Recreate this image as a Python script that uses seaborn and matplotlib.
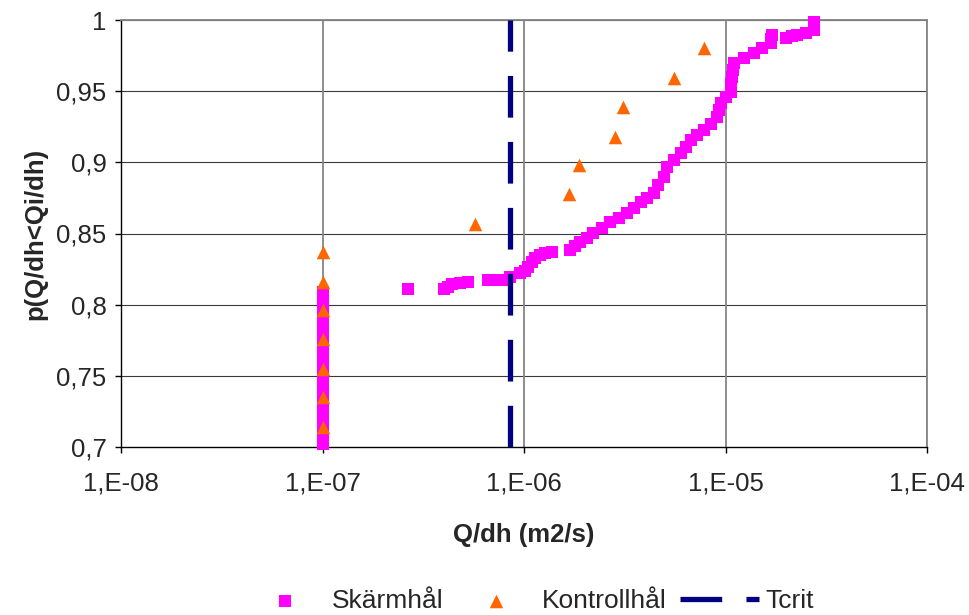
import numpy as np
import pandas as pd
import matplotlib
matplotlib.use("Agg")
import matplotlib.pyplot as plt
from matplotlib.ticker import FixedLocator, FuncFormatter, NullLocator
import seaborn as sns

# Skärmhål, values sitting on the lower limit 1E-07
skarm_col_p = [0.702, 0.707, 0.712, 0.716, 0.721, 0.726, 0.731, 0.735, 0.740,
               0.745, 0.750, 0.754, 0.759, 0.764, 0.769, 0.773, 0.778, 0.783,
               0.788, 0.792, 0.797, 0.802, 0.806, 0.809]
# Skärmhål, measured values
skarm_x = [2.66e-7, 3.99e-7, 4.2e-7, 4.39e-7, 4.8e-7, 5.29e-7,
           6.65e-7, 7.2e-7, 7.78e-7, 8.56e-7, 9.6e-7, 1.01e-6, 1.052e-6,
           1.10e-6, 1.139e-6, 1.20e-6, 1.277e-6, 1.384e-6,
           1.70e-6, 1.80e-6, 1.906e-6, 2.05e-6, 2.212e-6, 2.45e-6, 2.687e-6,
           2.95e-6, 3.253e-6, 3.5e-6, 3.788e-6, 4.1e-6, 4.393e-6, 4.65e-6,
           4.926e-6, 5.14e-6, 5.55e-6, 5.98e-6, 6.35e-6, 6.71e-6, 7.25e-6,
           7.78e-6, 8.45e-6, 9.11e-6, 9.3e-6, 9.45e-6, 1.0e-5, 1.06e-5,
           1.07e-5, 1.08e-5, 1.09e-5, 1.097e-5, 1.23e-5, 1.379e-5, 1.52e-5,
           1.675e-5, 1.69e-5, 1.708e-5, 1.989e-5, 2.13e-5, 2.273e-5, 2.50e-5,
           2.74e-5, 2.74e-5, 2.74e-5]
skarm_p = [0.8109, 0.8110, 0.8125, 0.8144, 0.8152, 0.8156,
           0.8172, 0.8172, 0.8175, 0.8195, 0.8221, 0.8240, 0.8265,
           0.8300, 0.8327, 0.8350, 0.8362, 0.8369,
           0.8383, 0.8410, 0.8441, 0.8470, 0.8502, 0.8540, 0.8582,
           0.8610, 0.8643, 0.8680, 0.8722, 0.8750, 0.8784, 0.8840,
           0.8898, 0.8969, 0.9015, 0.9065, 0.9110, 0.9156, 0.9190,
           0.9227, 0.9270, 0.9320, 0.9370, 0.9416, 0.9456, 0.9496,
           0.9550, 0.9601, 0.9650, 0.9698, 0.9735, 0.9768, 0.9800,
           0.9838, 0.9865, 0.9895, 0.9873, 0.9885, 0.9895, 0.9910,
           0.9930, 0.9960, 0.9988]

# Kontrollhål
kontroll_x = [1e-7, 1e-7, 1e-7, 1e-7, 1e-7, 1e-7, 1e-7,
              5.74e-7, 1.668e-6, 1.885e-6, 2.822e-6, 3.107e-6, 5.524e-6, 7.78e-6]
kontroll_p = [0.714, 0.735, 0.755, 0.776, 0.796, 0.816, 0.837,
              0.857, 0.878, 0.898, 0.918, 0.939, 0.959, 0.980]

tcrit = 8.56e-7
x_ticks = [1e-8, 1e-7, 1e-6, 1e-5, 1e-4]
x_tick_labels = ["1,E-08", "1,E-07", "1,E-06", "1,E-05", "1,E-04"]
y_ticks = [0.7, 0.75, 0.8, 0.85, 0.9, 0.95, 1.0]

skarm = pd.DataFrame({
    "x": [1e-7] * len(skarm_col_p) + skarm_x,
    "p": skarm_col_p + skarm_p,
})
kontroll = pd.DataFrame({"x": kontroll_x, "p": kontroll_p})

sns.set_style("white")
plt.rcParams['font.family'] = ['Liberation Sans', 'DejaVu Sans']

fig = plt.figure(figsize=(9.69, 6.15), dpi=100)
ax = fig.add_axes([121 / 969, 1 - 447 / 615, (927 - 121) / 969, (447 - 20) / 615])

sns.scatterplot(data=skarm, x="x", y="p", marker="s", s=80, color="#FF00FF",
                linewidth=0, label="Skärmhål", ax=ax, zorder=3, clip_on=False)
sns.scatterplot(data=kontroll, x="x", y="p", marker="^", s=95, color="#FF6600",
                linewidth=0, label="Kontrollhål", ax=ax, zorder=4, clip_on=False)
ax.plot([tcrit, tcrit], [0.7, 1.0], color="#000080", lw=3.8,
        dashes=(7.9, 4.6), label="Tcrit", zorder=5, solid_capstyle="butt",
        dash_capstyle="butt")

ax.set_xscale("log")
ax.set_xlim(1e-8, 1e-4)
ax.set_ylim(0.7, 1.0)
ax.xaxis.set_major_locator(FixedLocator(x_ticks))
ax.xaxis.set_minor_locator(NullLocator())
ax.set_xticks(x_ticks)
ax.set_xticklabels(x_tick_labels)
ax.set_yticks(y_ticks)
ax.yaxis.set_major_formatter(FuncFormatter(lambda v, _: ("%g" % v).replace(".", ",")))

ax.grid(False)
for yv in y_ticks[1:]:
    ax.axhline(yv, color="#3a3a3a", lw=0.8, zorder=1)
for xv in x_ticks[1:]:
    ax.axvline(xv, color="#858585", lw=1.3, zorder=1)

for side in ["top", "right"]:
    ax.spines[side].set_color("#858585")
    ax.spines[side].set_linewidth(1.3)
for side in ["left", "bottom"]:
    ax.spines[side].set_color("black")
    ax.spines[side].set_linewidth(1.0)

ax.tick_params(axis="both", direction="out", length=4.5, width=1, color="black",
               labelsize=18.5)
ax.tick_params(axis="x", pad=13, bottom=True)
ax.tick_params(axis="y", pad=6, left=True)

ax.set_xlabel("Q/dh (m2/s)", fontsize=18.5, fontweight="bold", labelpad=20)
ax.set_ylabel("p(Q/dh<Qi/dh)", fontsize=18.5, fontweight="bold", labelpad=6)

handles, labels = ax.get_legend_handles_labels()
ax.legend_.remove()
fig.legend(handles, labels, loc="lower center", bbox_to_anchor=(0.547, -0.036),
           ncol=3, frameon=False, fontsize=19, handlelength=3.0,
           handletextpad=0.25, columnspacing=0.5, markerscale=1.0)

fig.savefig("out.png", dpi=100)
